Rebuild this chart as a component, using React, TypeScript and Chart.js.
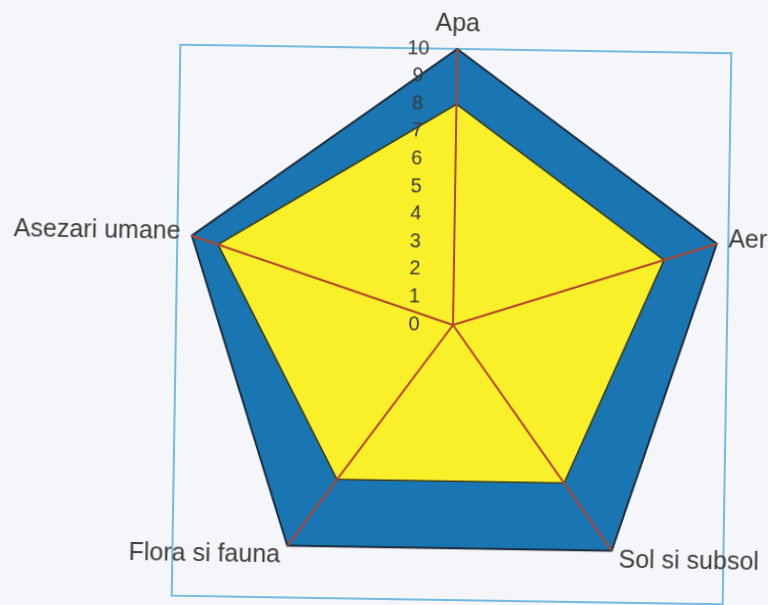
import React, { useEffect, useRef } from "react";
import { Chart, registerables } from "chart.js";

Chart.register(...registerables);

// ---- data ----
const categories = ["Apa", "Aer", "Sol si subsol", "Flora si fauna", "Asezari umane"];
const outerValues = [10, 10, 10, 10, 10];
const innerValues = [8, 8, 7, 7, 9];
const tickMin = 0;
const tickMax = 10;
const tickStep = 1;

const FONT = '"Liberation Sans", Arial, sans-serif';

const labelPlugin = {
  id: "manualLabels",
  afterDraw(chart: any) {
    const scale = chart.scales.r;
    const ctx = chart.ctx;
    ctx.save();
    // tick labels (0..10) to the left of the vertical axis
    ctx.font = `20px ${FONT}`;
    ctx.fillStyle = "#3a3a3a";
    ctx.textAlign = "center";
    ctx.textBaseline = "middle";
    scale.ticks.forEach((t: any) => {
      const d = scale.getDistanceFromCenterForValue(t.value);
      ctx.fillText(String(t.value), scale.xCenter - 39, scale.yCenter - d);
    });
    // category labels around the polygon
    ctx.font = `25px ${FONT}`;
    ctx.fillStyle = "#3c3c3c";
    const labels: string[] = chart.data.labels;
    labels.forEach((lab: string, i: number) => {
      const deg = Math.round(((scale.getIndexAngle(i) * 180) / Math.PI) % 360);
      let align: CanvasTextAlign = "center";
      let base: CanvasTextBaseline = "middle";
      if (deg === 0) {
        base = "bottom";
      } else if (deg === 180) {
        base = "top";
      } else if (deg < 180) {
        align = "left";
      } else {
        align = "right";
      }
      const pos = scale.getPointPosition(i, scale.drawingArea + 12);
      ctx.textAlign = align;
      ctx.textBaseline = base;
      ctx.fillText(lab, pos.x, pos.y);
    });
    ctx.restore();
  },
};

export default function App() {
  const canvasRef = useRef<HTMLCanvasElement | null>(null);

  useEffect(() => {
    if (!canvasRef.current) return;
    const chart = new Chart(canvasRef.current, {
      type: "radar",
      data: {
        labels: categories,
        datasets: [
          {
            label: "Inner",
            data: innerValues,
            backgroundColor: "#faf02a",
            borderColor: "#3a3a1c",
            borderWidth: 1.6,
            pointRadius: 0,
            fill: true,
          },
          {
            label: "Outer",
            data: outerValues,
            backgroundColor: "#1a76b2",
            borderColor: "#1d2a3a",
            borderWidth: 2,
            pointRadius: 0,
            fill: true,
          },
        ],
      },
      options: {
        responsive: false,
        animation: false,
        devicePixelRatio: 1,
        layout: { padding: { left: 177, right: 39, top: 49, bottom: 4 } },
        elements: { line: { tension: 0 } },
        plugins: {
          legend: { display: false },
          tooltip: { enabled: false },
        },
        scales: {
          r: {
            min: tickMin,
            max: tickMax,
            startAngle: 0,
            ticks: { stepSize: tickStep, display: false },
            grid: { display: false, z: 1 },
            angleLines: { display: true, color: "#b4422c", lineWidth: 2 },
            pointLabels: { display: false },
          },
        },
      },
      plugins: [labelPlugin],
    });
    return () => chart.destroy();
  }, []);

  return (
    <div
      style={{
        position: "absolute",
        left: 0,
        top: 0,
        width: 768,
        height: 605,
        background: "#f4f6fa",
        overflow: "hidden",
      }}
    >
      <div
        style={{
          position: "absolute",
          left: 0,
          top: 0,
          width: 768,
          height: 605,
          transform: "rotate(0.9deg)",
          transformOrigin: "453px 325px",
        }}
      >
        <div
          style={{
            position: "absolute",
            left: 175,
            top: 48,
            width: 553,
            height: 553,
            boxSizing: "border-box",
            border: "2px solid #74bade",
          }}
        />
        <canvas
          ref={canvasRef}
          width={768}
          height={605}
          style={{ position: "absolute", left: 0, top: 0, width: 768, height: 605 }}
        />
      </div>
    </div>
  );
}
